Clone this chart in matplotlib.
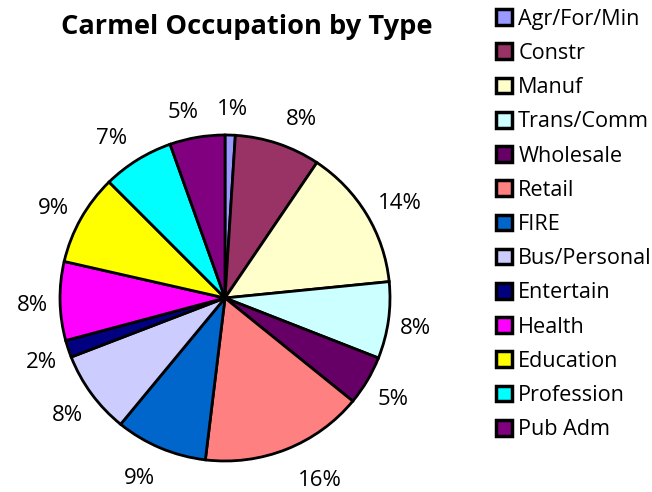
import matplotlib
matplotlib.use('Agg')
import matplotlib.pyplot as plt
from matplotlib.patches import Patch

plt.rcParams['font.family'] = ['Open Sans', 'DejaVu Sans']

categories = ['Agr/For/Min', 'Constr', 'Manuf', 'Trans/Comm', 'Wholesale', 'Retail',
              'FIRE', 'Bus/Personal', 'Entertain', 'Health', 'Education',
              'Profession', 'Pub Adm']
shares = [1.0, 8.4, 14.0, 7.6, 4.9, 16.0, 9.0, 8.2, 1.7, 7.8, 9.0, 7.0, 5.4]
colors = ['#9999FF', '#993366', '#FFFFCC', '#CCFFFF', '#660066', '#FF8080',
          '#0066CC', '#CCCCFF', '#000080', '#FF00FF', '#FFFF00', '#00FFFF', '#800080']

# small horizontal nudges (pixels) so the % labels sit where Excel put them
label_dx = [1, 14, 8, -2, 0, 22, -9, 0, 1, 2, -2, -10, -9]
label_dy = 4

fig = plt.figure(figsize=(6.52, 4.92), dpi=100)
# pie is drawn slightly wider than tall, like the original
rx, ry = 165, 163
ax = fig.add_axes([(225 - rx) / 652, (492 - 298 - ry) / 492, 2 * rx / 652, 2 * ry / 492])

wedges, texts, autotexts = ax.pie(
    shares, colors=colors, startangle=90, counterclock=False,
    autopct='%1.0f%%', pctdistance=1.18,
    wedgeprops=dict(edgecolor='black', linewidth=2),
    textprops=dict(fontsize=16))
ax.set_aspect('auto')
ax.set_xlim(-1, 1)
ax.set_ylim(-1, 1)

for t, dx in zip(autotexts, label_dx):
    x, y = t.get_position()
    t.set_position((x + dx / rx, y - label_dy / ry))

fig.text(247 / 652, 1 - 27 / 492, 'Carmel Occupation by Type', fontsize=19.6,
         fontweight='bold', ha='center', va='center')

handles = [Patch(facecolor=c, edgecolor='black', linewidth=2.5) for c in colors]
fig.legend(handles, categories, loc='upper left', bbox_to_anchor=(487 / 652, 1.0),
           frameon=False, fontsize=15.6, handlelength=0.74, handleheight=0.74,
           handletextpad=0.3, labelspacing=0.61, borderaxespad=0)

fig.savefig('out.png', dpi=100)
